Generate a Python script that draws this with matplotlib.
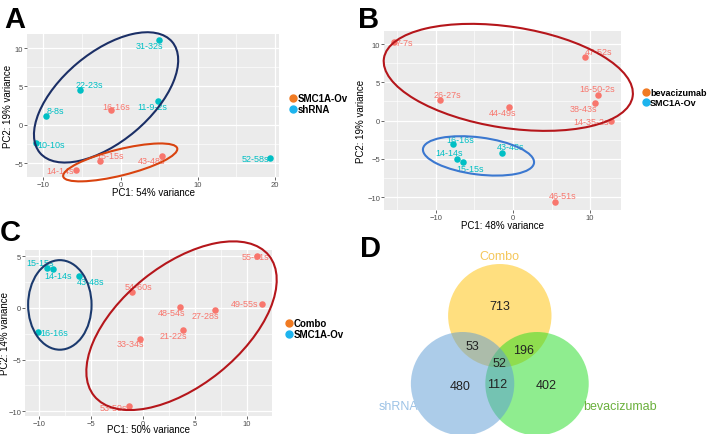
import numpy as np
import matplotlib.pyplot as plt
from matplotlib.patches import Ellipse, Circle
from matplotlib.lines import Line2D

plt.rcParams['font.family'] = ['Liberation Sans', 'DejaVu Sans']

# ---- data ----
# Panel A
a_names = ["31-32s", "22-23s", "8-8s", "10-10s", "11-9-2s", "52-58s",
           "16-16s", "15-15s", "43-48s", "14-14s"]
a_x = [5.0, -5.3, -9.6, -10.9, 4.9, 19.3, -1.2, -2.6, 5.4, -5.7]
a_y = [11.0, 4.5, 1.1, -2.4, 3.1, -4.3, 1.9, -4.7, -4.0, -5.9]
a_group = ["shRNA"] * 6 + ["SMC1A-Ov"] * 4

# Panel B
b_names = ["7-7s", "47-52s", "16-50-2s", "38-43s", "14-35-2s", "26-27s",
           "44-49s", "46-51s", "16-16s", "14-14s", "15-15s", "43-48s"]
b_x = [-15.4, 9.4, 11.0, 10.6, 12.7, -9.4, -0.5, 5.4, -7.8, -7.2, -6.5, -1.4]
b_y = [10.2, 8.3, 3.4, 2.3, -0.1, 2.7, 1.8, -10.6, -3.1, -5.0, -5.4, -4.2]
b_group = ["bevacizumab"] * 8 + ["SMC1A-Ov"] * 4

# Panel C
c_names = ["15-15s", "14-14s", "43-48s", "16-16s", "55-61s", "54-60s",
           "48-54s", "27-28s", "49-55s", "21-22s", "33-34s", "53-59s"]
c_x = [-9.2, -8.7, -6.2, -10.1, 11.0, -1.1, 3.6, 6.9, 11.4, 3.8, -0.26, -1.35]
c_y = [3.9, 3.8, 3.1, -2.3, 5.0, 1.5, 0.06, -0.16, 0.4, -2.1, -3.0, -9.5]
c_group = ["SMC1A-Ov"] * 4 + ["Combo"] * 8

# Panel D (Venn counts)
venn_counts = {"713": "C", "480": "S", "402": "B", "53": "CS",
               "196": "CB", "112": "SB", "52": "CSB"}
venn_sets = ["Combo", "shRNA", "bevacizumab"]

# ---- label offsets (pixels) ----
a_off = [(-10, -5), (10, 6), (9, 6), (15, -1), (-6, -5), (-14, -1),
         (5, 4), (10, 5), (-11, -5), (-16, 0)]
b_off = [(10, 0), (13, 6), (-1, 6), (-11, -5), (-20, 0), (7, 5),
         (-6, -6), (8, 6), (7, 5), (-8, 6), (7, -6), (8, 6)]
c_off = [(-7, 5), (6, -7), (12, -6), (16, -1), (-2, 0), (7, 6),
         (-9, -5), (-9, -6), (-17, 0), (-9, -6), (-10, -5), (-16, -1)]

RED = "#F8766D"
CYAN = "#00BFC4"
W, H = 708, 435

fig = plt.figure(figsize=(7.08, 4.35), dpi=100)


def px_axes(left, top, right, bottom):
    return fig.add_axes([left / W, 1 - bottom / H, (right - left) / W, (bottom - top) / H])


def gg_style(ax, xlim, ylim, xt, yt, xlab, ylab, xlab_pos, ylab_pos):
    ax.set_facecolor("#EBEBEB")
    ax.set_xticks(xt)
    ax.set_yticks(yt)
    step = xt[1] - xt[0]
    ax.set_xticks([t + step / 2 for t in [xt[0] - step] + list(xt)], minor=True)
    ystep = yt[1] - yt[0]
    ax.set_yticks([t + ystep / 2 for t in [yt[0] - ystep] + list(yt)], minor=True)
    ax.set_xlim(*xlim)
    ax.set_ylim(*ylim)
    ax.grid(which="major", color="white", lw=0.9)
    ax.grid(which="minor", color="white", lw=0.45)
    ax.set_axisbelow(True)
    for s in ax.spines.values():
        s.set_visible(False)
    ax.tick_params(which="major", length=2, width=0.6, color="#4D4D4D",
                   labelsize=5.5, labelcolor="#4D4D4D", pad=0.8)
    ax.tick_params(which="minor", length=0)
    # label positions given in figure pixels
    pos = ax.get_position()
    ax.set_xlabel(xlab, fontsize=7, va="center")
    ax.set_ylabel(ylab, fontsize=7, va="center")
    ax.xaxis.set_label_coords(0.5, ((H - xlab_pos) / H - pos.y0) / pos.height)
    ax.yaxis.set_label_coords((ylab_pos / W - pos.x0) / pos.width, 0.5)


def scatter_panel(ax, xs, ys, names, groups, offs, colmap):
    for x, y, n, g, o in zip(xs, ys, names, groups, offs):
        ax.annotate(n, (x, y), xytext=o, textcoords="offset pixels",
                    ha="center", va="center", fontsize=6.5, color=colmap[g], zorder=2)
        ax.scatter(x, y, s=22, color=colmap[g], zorder=3, linewidths=0)


def ring(ax, center, w, h, angle, color):
    ax.add_patch(Ellipse(center, w, h, angle=angle, fill=False, ec=color,
                         lw=1.5, zorder=4, clip_on=False))


def legend(handles_info, x, y, size=7):
    handles = [Line2D([], [], ls="none", marker="o", ms=5, color=c) for c, _ in handles_info]
    labels = [t for _, t in handles_info]
    fig.legend(handles, labels, loc="upper left", bbox_to_anchor=(x / W, 1 - y / H),
               frameon=False, handletextpad=0.0, handlelength=1.0,
               labelspacing=0.15, borderpad=0, borderaxespad=0,
               prop={"weight": "bold", "size": size})


LEG_ORANGE = "#F07A22"
LEG_BLUE = "#1DB4EE"

# ---- Panel A ----
axA = px_axes(27, 35, 279, 178)
gg_style(axA, (-12.1, 20.5), (-6.8, 11.83), [-10, 0, 10, 20], [-5, 0, 5, 10],
         "PC1: 54% variance", "PC2: 19% variance", 193, 8)
scatter_panel(axA, a_x, a_y, a_names, a_group, a_off, {"shRNA": CYAN, "SMC1A-Ov": RED})
ring(axA, (-1.87, 3.57), 22.4, 11.6, 40.3, "#1B2F66")
ring(axA, (-0.04, -4.9), 15.2, 3.4, 14.0, "#D9430F")
legend([(LEG_ORANGE, "SMC1A-Ov"), (LEG_BLUE, "shRNA")], 288, 94)

# ---- Panel B ----
axB = px_axes(384, 32, 621, 211)
gg_style(axB, (-16.7, 14.0), (-11.66, 11.7), [-10, 0, 10], [-10, -5, 0, 5, 10],
         "PC1: 48% variance", "PC2: 19% variance", 226, 361)
scatter_panel(axB, b_x, b_y, b_names, b_group, b_off, {"bevacizumab": RED, "SMC1A-Ov": CYAN})
ring(axB, (-0.6, 5.65), 32.6, 13.2, -8.8, "#B5161B")
ring(axB, (-4.46, -4.6), 14.5, 4.84, -7.3, "#3B78D0")
legend([(LEG_ORANGE, "bevacizumab"), (LEG_BLUE, "SMC1A-Ov")], 641, 89, size=6.5)

# ---- Panel C ----
axC = px_axes(25, 251, 272, 417)
gg_style(axC, (-11.35, 12.4), (-10.45, 5.6), [-10, -5, 0, 5, 10], [-10, -5, 0, 5],
         "PC1: 50% variance", "PC2: 14% variance", 430, 5)
scatter_panel(axC, c_x, c_y, c_names, c_group, c_off, {"Combo": RED, "SMC1A-Ov": CYAN})
ring(axC, (-8.0, 0.29), 6.1, 8.66, 0, "#1B3A6E")
ring(axC, (3.7, -1.72), 21.6, 11.6, 39, "#B5161B")
legend([(LEG_ORANGE, "Combo"), (LEG_BLUE, "SMC1A-Ov")], 284, 319)

# ---- Panel D: Venn ----
axD = px_axes(354, 220, 708, 435)
axD.set_xlim(354, 708)
axD.set_ylim(435, 220)
axD.axis("off")
r = 51.7
cx0, cy0 = 499.8, 384.7
centers = {"C": (cx0, cy0 - 1.315 * r), "S": (cx0 - 0.72 * r, cy0), "B": (cx0 + 0.72 * r, cy0)}
fills = {"C": "#FFC000", "B": "#21DD21", "S": "#5B9BD5"}
for k in ["C", "B", "S"]:
    axD.add_patch(Circle(centers[k], r, fc=fills[k], ec="none", alpha=0.5))


# label positions relative to the set centres
def region_pos(code):
    pts = [centers[k] for k in code]
    mx = np.mean([p[0] for p in pts])
    my = np.mean([p[1] for p in pts])
    if len(code) == 1:
        shift = {"C": (0, -10), "S": (-2, 2), "B": (9, 1)}[code]
    elif len(code) == 2:
        shift = {"CS": (-9, -4), "CB": (5, 0), "SB": (-3, 0)}[code]
    else:
        shift = (0, 2)
    return mx + shift[0], my + shift[1]


for txt, code in venn_counts.items():
    x, y = region_pos(code)
    axD.text(x, y, txt, ha="center", va="center", fontsize=9, color="#222222")

axD.text(centers["C"][0], centers["C"][1] - r - 2, venn_sets[0], ha="center", va="bottom",
         fontsize=9, color="#F5C75A")
axD.text(centers["S"][0] - r - 12, cy0 + 22, venn_sets[1], ha="center", va="center",
         fontsize=9, color="#9DC3E6")
axD.text(centers["B"][0] + r + 31, cy0 + 22, venn_sets[2], ha="center", va="center",
         fontsize=9, color="#6AB03C")

# ---- panel letters ----
for letter, (x, y) in zip("ABCD", [(4, 28), (358, 28), (0, 241), (360, 257)]):
    fig.text(x / W, 1 - y / H, letter, fontsize=21, fontweight="bold", ha="left", va="baseline")

fig.savefig("out.png", dpi=100)
